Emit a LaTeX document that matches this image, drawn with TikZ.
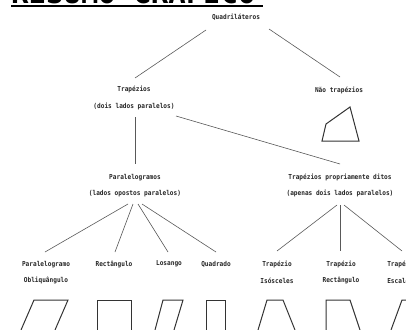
\documentclass[tikz,border=0pt]{standalone}
\usepackage{fontspec}
\newfontfamily\lblfont{DejaVu Sans Mono}
\newfontfamily\lblnarrow[FakeStretch=0.9]{DejaVu Sans Mono}
\usetikzlibrary{calc}
\begin{document}
\begin{tikzpicture}[x=1pt,y=-1pt,
  lbl/.style={inner sep=0pt,align=center,font=\lblnarrow\bfseries\fontsize{6.8}{16.5}\selectfont,text=black!85},
  conn/.style={draw=black!65,line width=0.6pt},
  fig/.style={draw=black!80,line width=1pt,line join=miter}]
\useasboundingbox (0,0) rectangle (406,329);
% cut-off title
\begin{scope}
\clip (0,0) rectangle (406,4);
\node[anchor=base west,inner sep=0pt,font=\lblfont\bfseries\fontsize{29}{30}\selectfont] (title) at (11,3.5) {RESUMO GRÁFICO};
\end{scope}
\draw[line width=2.5pt] (11,6) -- (263,6);
% nodes
\node[lbl] (Q) at (236,17) {Quadriláteros};
\node[lbl] (T) at (134,98) {Trapézios\\(dois lados paralelos)};
\node[lbl] (N) at (339,90) {Não trapézios};
\node[lbl] (P) at (135,185.5) {Paralelogramos\\(lados opostos paralelos)};
\node[lbl] (TP) at (340,185.5) {Trapézios propriamente ditos\\(apenas dois lados paralelos)};
\node[lbl] (PO) at (46,272.5) {Paralelogramo\\Obliquângulo};
\node[lbl] (R) at (114,264) {Rectângulo};
\node[lbl] (L) at (169,264) {Losango};
\node[lbl] (Qd) at (216,264) {Quadrado};
\node[lbl] (TI) at (277,272.5) {Trapézio\\Isósceles};
\node[lbl] (TR) at (341,272.5) {Trapézio\\Rectângulo};
\node[lbl] (TE) at (402,272.5) {Trapézio\\Escaleno};
% connectors
\draw[conn] ([shift={(-30,13)}]Q.center) -- ([shift={(1,-20)}]T.center);
\draw[conn] ([shift={(33,12)}]Q.center) -- ([shift={(1,-13)}]N.center);
\draw[conn] ([shift={(1,19)}]T.center) -- ([shift={(0,-21.5)}]P.center);
\draw[conn] ([shift={(42,18)}]T.center) -- ([shift={(0,-21.5)}]TP.center);
\draw[conn] ([shift={(-7,18.5)}]P.center) -- ([shift={(-1,-20.5)}]PO.center);
\draw[conn] ([shift={(-2,18.5)}]P.center) -- ([shift={(1,-12)}]R.center);
\draw[conn] ([shift={(3,18.5)}]P.center) -- ([shift={(-1,-12)}]L.center);
\draw[conn] ([shift={(7,18.5)}]P.center) -- ([shift={(0,-12)}]Qd.center);
\draw[conn] ([shift={(-3,19.5)}]TP.center) -- ([shift={(0,-21.5)}]TI.center);
\draw[conn] ([shift={(0,19.5)}]TP.center) -- ([shift={(-1,-21.5)}]TR.center);
\draw[conn] ([shift={(4,19.5)}]TP.center) -- ([shift={(0,-21.5)}]TE.center);
% figures
\draw[fig] (322,141) -- (359,141) -- (350,107) -- (326,124) -- cycle;
\draw[fig] (21,330) -- (34,300) -- (68,300) -- (55,330);
\draw[fig] (97,330) -- (97,300) -- (131,300) -- (131,330);
\draw[fig] (155,330) -- (163,300) -- (183,300) -- (174,330);
\draw[fig] (206,330) -- (206,300) -- (225,300) -- (225,330);
\draw[fig] (258,330) -- (267,300) -- (283,300) -- (295,330);
\draw[fig] (326,330) -- (326,300) -- (350,300) -- (360,330);
\draw[fig] (391,330) -- (402,300) -- (410,300);
\end{tikzpicture}
\end{document}
